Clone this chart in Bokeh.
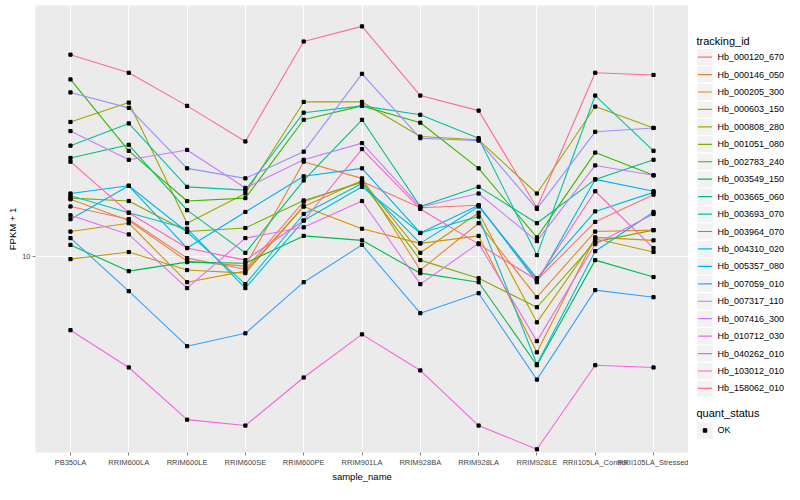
from bokeh.plotting import figure
from bokeh.models import FactorRange, Range1d, FixedTicker, PrintfTickFormatter, ColumnDataSource
from bokeh.layouts import row
from bokeh.embed import file_html
from bokeh.resources import INLINE
from bokeh.core.properties import value

samples = ["PB350LA", "RRIM600LA", "RRIM600LE", "RRIM600SE", "RRIM600PE", "RRIM901LA",
           "RRIM928BA", "RRIM928LA", "RRIM928LE", "RRII105LA_Control", "RRII105LA_Stressed"]

tracking_ids = ["Hb_000120_670", "Hb_000146_050", "Hb_000205_300", "Hb_000603_150", "Hb_000808_280",
                "Hb_001051_080", "Hb_002783_240", "Hb_003549_150", "Hb_003665_060", "Hb_003693_070",
                "Hb_003964_070", "Hb_004310_020", "Hb_005357_080", "Hb_007059_010", "Hb_007317_110",
                "Hb_007416_300", "Hb_010712_030", "Hb_040262_010", "Hb_103012_010", "Hb_158062_010"]

colors = ["#F8766D", "#EA8331", "#D89000", "#C09B00", "#A3A500", "#7CAE00", "#39B600", "#00BB4E",
          "#00BF7D", "#00C1A3", "#00BFC4", "#00BAE0", "#00B0F6", "#35A2FF", "#9590FF", "#C77CFF",
          "#E76BF3", "#FA62DB", "#FF62BC", "#FF6C90"]

# FPKM + 1 per sample
hb_000120_670 = [13.5, 12.5, 9.88, 9.24, 13.9, 15.7, 13.4, 13.6, 8.65, 12.3, 14.5]
hb_000146_050 = [14.1, 12.4, 9.70, 9.41, 17.7, 16.0, 9.19, 12.2, 7.80, 11.6, 11.7]
hb_000205_300 = [11.6, 12.2, 8.54, 9.13, 13.5, 11.8, 10.8, 11.3, 5.59, 11.2, 11.0]
hb_000603_150 = [9.82, 10.25, 9.19, 9.02, 13.5, 15.8, 10.2, 13.0, 6.70, 11.1, 10.25]
hb_000808_280 = [22.5, 25.3, 12.2, 14.6, 25.4, 25.4, 20.6, 20.2, 14.6, 24.7, 21.7]
hb_001051_080 = [14.2, 13.95, 11.6, 11.85, 14.0, 15.6, 9.76, 8.75, 7.34, 10.9, 11.7]
hb_002783_240 = [29.1, 18.9, 13.95, 14.2, 22.8, 24.8, 22.4, 17.0, 11.2, 18.7, 16.3]
hb_003549_150 = [10.7, 9.13, 9.64, 9.58, 11.3, 11.0, 9.02, 8.54, 5.17, 9.76, 8.81]
hb_003665_060 = [18.1, 19.6, 13.2, 10.2, 15.8, 22.8, 13.5, 15.2, 12.2, 15.9, 17.9]
hb_003693_070 = [19.5, 22.3, 15.2, 14.9, 23.8, 24.8, 23.5, 20.4, 10.06, 26.4, 18.9]
hb_003964_070 = [14.4, 13.0, 11.8, 8.24, 12.4, 15.2, 11.5, 12.7, 5.20, 10.3, 13.06]
hb_004310_020 = [12.5, 15.3, 11.57, 8.44, 12.9, 15.5, 10.8, 13.5, 8.75, 13.1, 14.7]
hb_005357_080 = [14.6, 15.3, 10.5, 13.06, 16.2, 17.0, 11.5, 13.6, 8.54, 15.9, 14.8]
hb_007059_010 = [11.15, 8.09, 5.80, 6.27, 8.54, 10.7, 7.08, 7.99, 4.74, 8.14, 7.80]
hb_007317_110 = [26.9, 24.5, 17.0, 16.0, 18.8, 30.1, 20.4, 20.1, 13.3, 21.2, 21.7]
hb_007416_300 = [21.3, 17.9, 19.0, 15.1, 17.9, 19.8, 13.46, 14.6, 10.95, 17.3, 16.3]
hb_010712_030 = [12.8, 11.4, 8.24, 11.15, 11.9, 13.95, 8.44, 10.8, 5.98, 10.75, 12.9]
hb_040262_010 = [6.39, 5.10, 3.72, 3.59, 4.80, 6.23, 5.01, 3.59, 3.11, 5.17, 5.10]
hb_103012_010 = [17.7, 13.0, 10.5, 9.76, 12.4, 19.1, 13.3, 10.75, 8.65, 14.8, 10.5]
hb_158062_010 = [33.8, 30.3, 24.8, 20.0, 36.6, 40.1, 26.4, 24.1, 13.4, 30.3, 29.9]

series = [hb_000120_670, hb_000146_050, hb_000205_300, hb_000603_150, hb_000808_280,
          hb_001051_080, hb_002783_240, hb_003549_150, hb_003665_060, hb_003693_070,
          hb_003964_070, hb_004310_020, hb_005357_080, hb_007059_010, hb_007317_110,
          hb_007416_300, hb_010712_030, hb_040262_010, hb_103012_010, hb_158062_010]

quant_status = ["OK"]

FONT = "Liberation Sans"
FRAME_TOP = 5
FRAME_BOTTOM = 451

p = figure(width=688, height=484,
           x_range=FactorRange(factors=samples, range_padding=0.2 / 11),
           y_axis_type="log", y_range=Range1d(3.05, 45.5),
           output_backend="svg", toolbar_location=None,
           min_border_left=35, min_border_right=0, min_border_top=FRAME_TOP, min_border_bottom=0)
p.background_fill_color = "#EBEBEB"
p.border_fill_color = "white"
p.outline_line_color = None

p.xgrid.grid_line_color = "white"
p.xgrid.grid_line_width = 1.1
p.ygrid.grid_line_color = "white"
p.ygrid.grid_line_width = 1.1
p.ygrid.ticker = FixedTicker(ticks=[10])

p.yaxis.ticker = FixedTicker(ticks=[10], minor_ticks=[])
p.yaxis.formatter = PrintfTickFormatter(format="%d")

for ax in (p.xaxis, p.yaxis):
    ax.axis_line_color = None
    ax.major_tick_line_color = "#7F7F7F"
    ax.major_tick_out = 3
    ax.major_tick_in = 0
    ax.minor_tick_line_color = None
    ax.major_label_text_font = FONT
    ax.major_label_text_font_size = "7.5px"
    ax.major_label_text_color = "#444444"
    ax.major_label_standoff = 2
    ax.axis_label_text_font = FONT
    ax.axis_label_text_font_size = "9.5px"
    ax.axis_label_text_font_style = "normal"
    ax.axis_label_text_color = "black"
    ax.axis_label_standoff = 1

p.xaxis.axis_label = "sample_name"
p.yaxis.axis_label = "FPKM + 1"

for vals, col in zip(series, colors):
    p.line(x=samples, y=vals, line_color=col, line_width=1.1)

px, py = [], []
for vals in series:
    px.extend(samples)
    py.extend(vals)
p.scatter(x=px, y=py, marker="square", size=3.2, color="black")

# legend panel (frame shares the main frame's vertical extent; coordinates in page pixels)
LEG_X0 = 688
leg = figure(width=96, height=484, x_range=Range1d(LEG_X0, LEG_X0 + 96),
             y_range=Range1d(FRAME_BOTTOM, FRAME_TOP),
             output_backend="svg", toolbar_location=None,
             x_axis_location=None, y_axis_location=None,
             min_border_left=0, min_border_right=0, min_border_top=FRAME_TOP, min_border_bottom=0)
leg.grid.visible = False
leg.outline_line_color = None
leg.background_fill_color = "white"
leg.border_fill_color = "white"

n = len(tracking_ids)
yc = [56.5 + 17.4 * i for i in range(n)]
src = ColumnDataSource(dict(y=yc, kx=[704.5] * n, x0=[697.5] * n, x1=[711.5] * n,
                            tx=[717] * n, label=tracking_ids, color=colors))
leg.text(x=[696], y=[40], text=["tracking_id"], text_font=value(FONT), text_font_size="11px",
         text_baseline="middle", text_color="black")
leg.rect(x="kx", y="y", width=15.5, height=16, fill_color="#F2F2F2", line_color=None, source=src)
leg.segment(x0="x0", x1="x1", y0="y", y1="y", line_color="color", line_width=1.2, source=src)
leg.text(x="tx", y="y", text="label", text_font=value(FONT), text_font_size="9px",
         text_baseline="middle", text_color="black", source=src)

qy = 429
leg.text(x=[696], y=[412], text=["quant_status"], text_font=value(FONT), text_font_size="11px",
         text_baseline="middle", text_color="black")
leg.rect(x=[704.5], y=[qy], width=15.5, height=16, fill_color="#F2F2F2", line_color=None)
leg.scatter(x=[704.5], y=[qy], marker="square", size=3.5, color="black")
leg.text(x=[717], y=[qy], text=quant_status, text_font=value(FONT), text_font_size="9px",
         text_baseline="middle", text_color="black")

layout = row(p, leg)
open("out.html", "w").write(file_html(layout, INLINE))
